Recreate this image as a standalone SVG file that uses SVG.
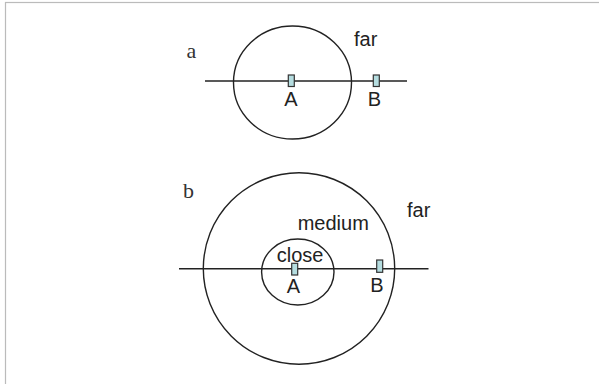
<svg xmlns="http://www.w3.org/2000/svg" width="599" height="384" viewBox="0 0 599 384">
<style>
.ln{stroke:#222;stroke-width:1.4;fill:none}
.box{fill:#b5dde0;stroke:#333;stroke-width:1.2}
.t{font-family:"Liberation Sans",Arial,sans-serif;font-size:20px;fill:#222}
.s{font-family:"Liberation Serif","Times New Roman",serif;font-size:22px;fill:#333}
</style>
<rect x="5.5" y="2.5" width="600" height="400" fill="#fff" stroke="#bbb" stroke-width="1.2"/>
<g id="panel-a">
<text class="s" x="186.5" y="58">a</text>
<g id="a-circle"><ellipse class="ln" cx="292.5" cy="82.5" rx="59" ry="56.5"/></g>
<text class="t" x="354" y="46">far</text>
<g id="connectors-a"><line class="ln" x1="205" y1="81" x2="407" y2="81"/></g>
<g id="a-A"><rect class="box" x="288.3" y="75" width="6" height="11.5"/><text class="t" x="291" y="106" text-anchor="middle">A</text></g>
<g id="a-B"><rect class="box" x="373.3" y="75" width="6" height="11.5"/><text class="t" x="374.5" y="106" text-anchor="middle">B</text></g>
</g>
<g id="panel-b">
<text class="s" x="183" y="197.5">b</text>
<g id="b-outer"><circle class="ln" cx="299" cy="268.5" r="95.7"/></g>
<g id="b-inner"><ellipse class="ln" cx="297.8" cy="272" rx="36.2" ry="33"/></g>
<text class="t" x="297.7" y="230">medium</text>
<text class="t" x="407" y="216.7">far</text>
<text class="t" x="276.7" y="261.7">close</text>
<g id="connectors-b"><line class="ln" x1="179" y1="268.7" x2="428.5" y2="268.7"/></g>
<g id="b-A"><rect class="box" x="291.7" y="263.3" width="6" height="11.7"/><text class="t" x="293.5" y="293.3" text-anchor="middle">A</text></g>
<g id="b-B"><rect class="box" x="376.7" y="260" width="6" height="12.3"/><text class="t" x="377" y="291.7" text-anchor="middle">B</text></g>
</g>
</svg>
